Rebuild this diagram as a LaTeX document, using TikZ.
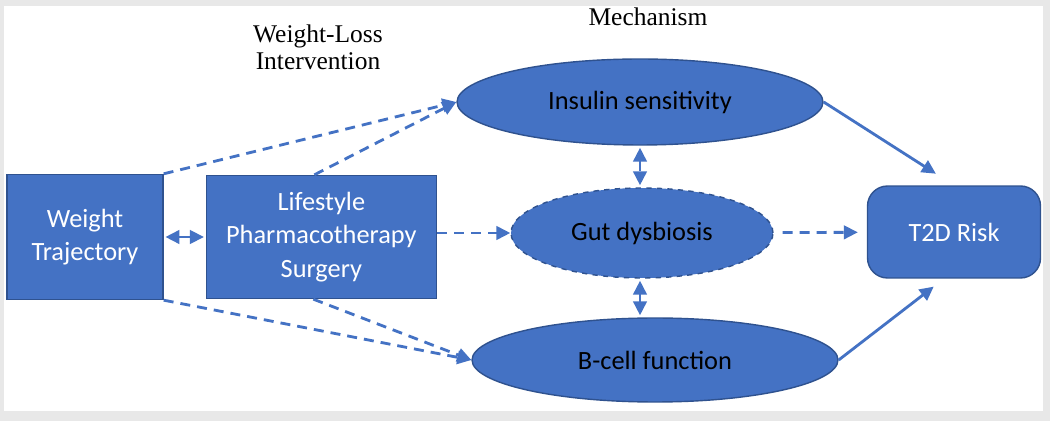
\documentclass[tikz,border=0pt]{standalone}
\usepackage{fontspec}
\setmainfont{Carlito}
\newfontfamily\titlefont{Liberation Serif}
\usetikzlibrary{arrows.meta,shapes.geometric,positioning}
\definecolor{officeblue}{HTML}{4472C4}
\definecolor{edgeblue}{HTML}{2F528F}
\definecolor{framegray}{HTML}{E8E8E8}

\begin{document}
\begin{tikzpicture}[x=0.02cm,y=-0.02cm,>={Triangle[length=0.28cm,width=0.27cm]},
  line width=1.6pt,
  box node/.style={rectangle,fill=officeblue,draw=edgeblue,line width=0.8pt,text=white,
    align=center,font=\fontsize{15}{19}\selectfont,inner sep=0pt},
  oval node/.style={ellipse,fill=officeblue,draw=edgeblue,line width=0.8pt,text=black,
    font=\fontsize{15}{19}\selectfont,inner sep=0pt},
  title node/.style={align=center,font=\titlefont\fontsize{14.5}{15.5}\selectfont},
  link/.style={officeblue,->},
  dash link/.style={officeblue,->,dash pattern=on 0.2cm off 0.14cm}]
  % frame
  \fill[framegray] (0,0) rectangle (1050,421);
  \fill[white] (4,6) rectangle (1043,411);
  % nodes
  \node[box node,minimum width=3.12cm,minimum height=2.5cm] (wt) at (85,237) {Weight\\Trajectory};
  \node[box node,minimum width=4.6cm,minimum height=2.46cm] (ls) [right=0.84cm of wt] {Lifestyle\\Pharmacotherapy\\Surgery};
  \node[oval node,minimum width=7.32cm,minimum height=1.72cm] (ins) at (640,102) {Insulin sensitivity};
  \node[oval node,dashed,minimum width=5.24cm,minimum height=1.8cm] (gut) at (642,233) {Gut dysbiosis};
  \node[oval node,minimum width=7.32cm,minimum height=1.68cm] (bc) at (655,360) {B-cell function};
  \node[box node,rounded corners=0.4cm,minimum width=3.46cm,minimum height=1.84cm] (risk) at (954,232) {T2D Risk};
  \node[title node] (wl) at (318,47) {Weight-Loss\\Intervention};
  \node[title node] (mech) at (648,17) {Mechanism};
  % connectors
  \draw[link,<->,shorten <=1pt,shorten >=1pt] (wt) -- (ls);
  \draw[dash link] (wt.north east) -- (ins.west);
  \draw[dash link] ([xshift=-0.14cm]ls.north) -- (ins.west);
  \draw[dash link] (wt.south east) -- (bc.west);
  \draw[dash link] ([xshift=-0.16cm]ls.south) -- (bc.west);
  \draw[dash link] (ls.east |- gut.west) -- (gut.west);
  \draw[dash link,shorten <=0.18cm,shorten >=0.18cm] (gut) -- (risk);
  \draw[dash link,<->,shorten <=0.04cm,shorten >=0.04cm] (ins.south) -- (ins.south |- gut.north);
  \draw[dash link,<->,shorten <=0.04cm,shorten >=0.04cm] (ins.south |- gut.south) -- (ins.south |- bc.north);
  \draw[link,shorten >=0.43cm] (ins.east) -- (risk.north);
  \draw[link,shorten >=0.26cm] (bc.east) -- ([xshift=-0.2cm]risk.south);
\end{tikzpicture}
\end{document}
